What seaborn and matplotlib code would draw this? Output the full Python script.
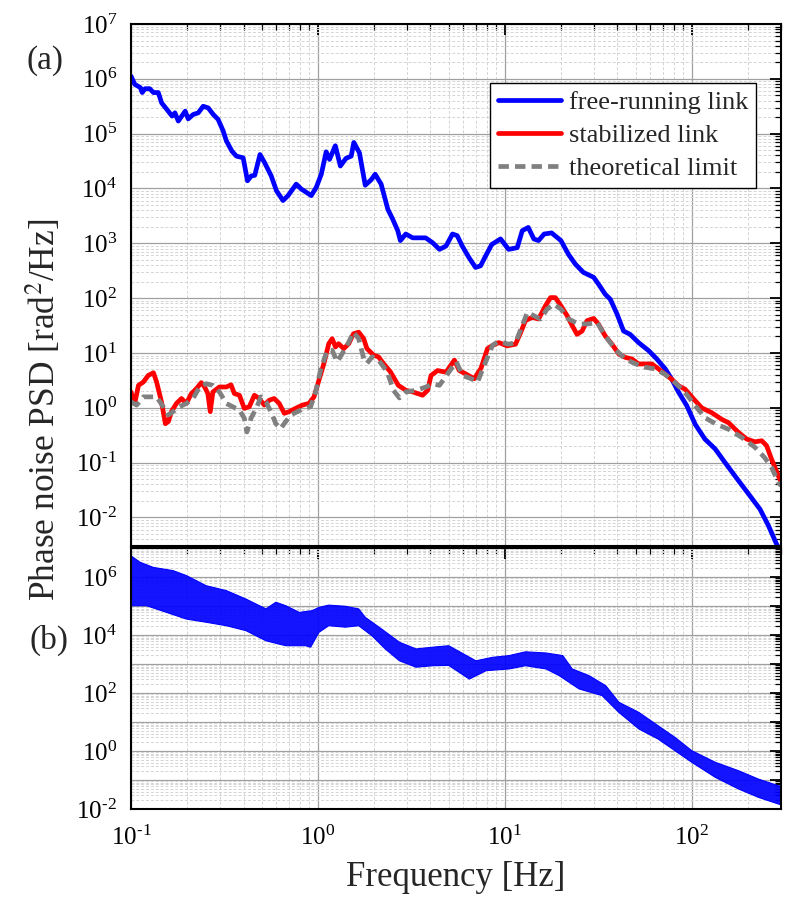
import numpy as np
import matplotlib
matplotlib.use("Agg")
import matplotlib.pyplot as plt
import seaborn as sns
from matplotlib.ticker import LogLocator, FuncFormatter, NullFormatter, FixedLocator

# ---------------- data (log10 of frequency [Hz], log10 of PSD [rad^2/Hz]) -------------
free_logf = [-1.0, -0.98, -0.95, -0.94, -0.925, -0.90, -0.88, -0.854, -0.836, -0.81,
             -0.78, -0.765, -0.747, -0.71, -0.694, -0.667, -0.64, -0.614, -0.587, -0.56,
             -0.534, -0.507, -0.49, -0.46, -0.436, -0.40, -0.377, -0.356, -0.338, -0.31,
             -0.285, -0.25, -0.222, -0.187, -0.16, -0.116, -0.089, -0.062, -0.036, -0.009,
             0.018, 0.044, 0.062, 0.093, 0.12, 0.15, 0.178, 0.192, 0.222, 0.253,
             0.285, 0.306, 0.338, 0.374, 0.40, 0.427, 0.441, 0.47, 0.507, 0.54,
             0.576, 0.614, 0.65, 0.685, 0.72, 0.745, 0.772, 0.808, 0.843, 0.87,
             0.897, 0.93, 0.977, 1.02, 1.066, 1.093, 1.125, 1.155, 1.18, 1.21,
             1.25, 1.30, 1.34, 1.377, 1.42, 1.475, 1.50, 1.537, 1.564, 1.60,
             1.635, 1.67, 1.715, 1.77, 1.813, 1.858, 1.893, 1.93, 1.973, 2.018,
             2.07, 2.125, 2.178, 2.25, 2.31, 2.365, 2.41, 2.454, 2.477]
free_logv = [6.05, 5.90, 5.84, 5.75, 5.82, 5.82, 5.75, 5.75, 5.56, 5.45,
             5.32, 5.38, 5.23, 5.41, 5.27, 5.35, 5.38, 5.50, 5.47, 5.35,
             5.26, 5.05, 4.87, 4.68, 4.59, 4.56, 4.14, 4.23, 4.24, 4.62,
             4.47, 4.23, 3.96, 3.78, 3.87, 4.08, 3.99, 3.93, 3.87, 4.02,
             4.26, 4.67, 4.53, 4.78, 4.41, 4.55, 4.59, 4.84, 4.65, 4.06,
             4.16, 4.26, 4.08, 3.62, 3.44, 3.23, 3.05, 3.17, 3.10, 3.10,
             3.10, 3.01, 2.89, 2.95, 3.17, 3.14, 2.95, 2.74, 2.56, 2.59,
             2.77, 2.98, 3.08, 2.89, 2.92, 3.23, 3.29, 3.08, 3.05, 3.17,
             3.19, 3.05, 2.80, 2.62, 2.47, 2.38, 2.26, 2.07, 1.98, 1.71,
             1.40, 1.34, 1.19, 1.04, 0.89, 0.71, 0.52, 0.28, 0.04, -0.30,
             -0.57, -0.75, -1.0, -1.33, -1.60, -1.85, -2.15, -2.49, -2.62]

stab_logf = [-1.0, -0.98, -0.96, -0.934, -0.908, -0.88, -0.863, -0.837, -0.816, -0.80,
             -0.784, -0.757, -0.73, -0.704, -0.677, -0.65, -0.624, -0.606, -0.589, -0.576,
             -0.562, -0.527, -0.49, -0.465, -0.447, -0.42, -0.394, -0.367, -0.34, -0.314,
             -0.287, -0.26, -0.234, -0.207, -0.18, -0.154, -0.12, -0.083, -0.048, -0.021,
             0.005, 0.032, 0.058, 0.076, 0.094, 0.11, 0.138, 0.165, 0.19, 0.218,
             0.245, 0.262, 0.298, 0.324, 0.35, 0.387, 0.43, 0.47, 0.507, 0.56,
             0.587, 0.605, 0.64, 0.685, 0.73, 0.756, 0.79, 0.836, 0.872, 0.907,
             0.93, 0.968, 1.012, 1.057, 1.084, 1.11, 1.146, 1.18, 1.217, 1.244,
             1.27, 1.30, 1.333, 1.36, 1.386, 1.413, 1.44, 1.475, 1.50, 1.537,
             1.573, 1.61, 1.644, 1.68, 1.715, 1.75, 1.786, 1.822, 1.858, 1.893,
             1.93, 1.964, 2.01, 2.053, 2.107, 2.16, 2.196, 2.25, 2.294, 2.338,
             2.374, 2.40, 2.427, 2.463, 2.477]
stab_logv = [0.29, 0.08, 0.41, 0.47, 0.59, 0.64, 0.47, 0.11, -0.29, -0.25,
             -0.07, 0.08, 0.17, 0.08, 0.26, 0.35, 0.46, 0.38, 0.26, -0.07,
             0.29, 0.38, 0.38, 0.42, 0.26, 0.23, -0.01, 0.02, 0.23, 0.17,
             0.05, 0.14, 0.17, 0.08, -0.10, -0.07, -0.01, 0.05, 0.08, 0.20,
             0.50, 0.81, 1.17, 1.26, 1.11, 1.17, 1.08, 1.17, 1.35, 1.38,
             1.26, 1.08, 0.96, 0.93, 0.81, 0.66, 0.41, 0.32, 0.29, 0.23,
             0.32, 0.59, 0.68, 0.65, 0.87, 0.68, 0.62, 0.53, 0.72, 1.08,
             1.13, 1.19, 1.13, 1.16, 1.37, 1.59, 1.65, 1.62, 1.86, 2.01,
             2.01, 1.86, 1.68, 1.50, 1.34, 1.40, 1.59, 1.63, 1.53, 1.31,
             1.16, 0.98, 0.92, 0.89, 0.80, 0.80, 0.80, 0.71, 0.61, 0.52,
             0.40, 0.34, 0.16, 0.0, -0.09, -0.21, -0.27, -0.45, -0.57, -0.62,
             -0.60, -0.69, -0.94, -1.24, -1.35]

theo_logf = [-1.0, -0.97, -0.934, -0.9, -0.863, -0.828, -0.80, -0.775, -0.74, -0.704,
             -0.668, -0.633, -0.598, -0.562, -0.527, -0.49, -0.456, -0.42, -0.394, -0.38,
             -0.358, -0.33, -0.305, -0.278, -0.252, -0.225, -0.2, -0.172, -0.145, -0.11,
             -0.074, -0.039, -0.012, 0.014, 0.05, 0.076, 0.103, 0.13, 0.165, 0.19,
             0.218, 0.245, 0.262, 0.29, 0.324, 0.37, 0.404, 0.436, 0.47, 0.525,
             0.578, 0.614, 0.65, 0.70, 0.74, 0.774, 0.82, 0.854, 0.89, 0.934,
             0.96, 0.99, 1.02, 1.057, 1.093, 1.12, 1.155, 1.19, 1.226, 1.262,
             1.30, 1.34, 1.395, 1.448, 1.493, 1.537, 1.59, 1.644, 1.70, 1.75,
             1.804, 1.858, 1.91, 1.964, 2.018, 2.07, 2.133, 2.196, 2.267, 2.338,
             2.39, 2.427, 2.463, 2.477]
theo_logv = [0.11, 0.05, 0.20, 0.20, 0.20, 0.02, -0.13, -0.07, 0.02, 0.08,
             0.17, 0.38, 0.44, 0.41, 0.29, 0.08, 0.02, -0.04, -0.19, -0.44,
             -0.19, -0.01, 0.20, 0.11, -0.07, -0.29, -0.38, -0.25, -0.13, -0.07,
             -0.01, 0.02, 0.29, 0.69, 1.05, 1.05, 0.84, 0.99, 1.20, 1.38,
             1.26, 0.90, 0.81, 0.93, 0.87, 0.66, 0.32, 0.18, 0.29, 0.32,
             0.38, 0.44, 0.41, 0.65, 0.84, 0.59, 0.53, 0.47, 0.78, 1.14,
             1.20, 1.19, 1.16, 1.19, 1.50, 1.74, 1.68, 1.62, 1.80, 1.89,
             1.80, 1.62, 1.53, 1.53, 1.56, 1.31, 1.07, 0.89, 0.80, 0.74,
             0.71, 0.61, 0.46, 0.28, 0.04, -0.18, -0.30, -0.39, -0.54, -0.72,
             -0.91, -1.09, -1.36, -1.42]

# panel (b): upper and lower edges of the bundle of repeated free-running spectra
band_upper_logf = [-1.0, -0.952, -0.88, -0.775, -0.704, -0.598, -0.49, -0.385, -0.278, -0.225,
                   -0.172, -0.10, -0.03, 0.005, 0.058, 0.147, 0.218, 0.253, 0.34, 0.436,
                   0.525, 0.614, 0.70, 0.747, 0.845, 0.934, 1.023, 1.11, 1.22, 1.31,
                   1.36, 1.45, 1.54, 1.61, 1.717, 1.82, 1.91, 2.0, 2.126, 2.25,
                   2.357, 2.464, 2.477]
band_upper_logv = [6.73, 6.51, 6.33, 6.22, 6.05, 5.70, 5.53, 5.24, 4.90, 5.13,
                   5.01, 4.78, 4.84, 4.95, 5.03, 4.99, 4.90, 4.61, 4.21, 3.75,
                   3.52, 3.58, 3.63, 3.46, 3.11, 3.23, 3.29, 3.42, 3.38, 3.29,
                   2.83, 2.60, 2.25, 1.68, 1.33, 0.87, 0.47, 0.01, -0.39, -0.68,
                   -0.97, -1.20, -1.22]
band_lower_logf = [-1.0, -0.917, -0.81, -0.704, -0.598, -0.49, -0.385, -0.278, -0.172, -0.066,
                   -0.039, 0.005, 0.058, 0.147, 0.218, 0.29, 0.36, 0.436, 0.525, 0.614,
                   0.70, 0.81, 0.90, 1.023, 1.11, 1.22, 1.29, 1.397, 1.52, 1.61,
                   1.717, 1.82, 1.91, 2.0, 2.126, 2.25, 2.357, 2.464, 2.477]
band_lower_logv = [5.01, 5.01, 4.78, 4.55, 4.44, 4.32, 4.15, 3.80, 3.63, 3.63,
                   3.58, 4.09, 4.32, 4.27, 4.32, 3.97, 3.52, 3.11, 2.89, 2.94,
                   2.95, 2.48, 2.77, 2.83, 2.94, 2.83, 2.60, 2.14, 1.91, 1.33,
                   0.76, 0.41, 0.01, -0.39, -0.91, -1.31, -1.60, -1.83, -1.85]

# tick decades shown on each axis
x_decades = [-1, 0, 1, 2]
ya_decades = [-2, -1, 0, 1, 2, 3, 4, 5, 6, 7]
yb_decades = [-2, -1, 0, 1, 2, 3, 4, 5, 6, 7]

legend_labels = ["free-running link", "stabilized link", "theoretical limit"]
panel_labels = ["(a)", "(b)"]
x_label = "Frequency [Hz]"
y_label = "Phase noise PSD [rad$^2$/Hz]"

# ---------------- style -------------
sns.set_theme(style="white")
plt.rcParams["font.family"] = ["Liberation Serif", "DejaVu Serif"]
plt.rcParams["mathtext.fontset"] = "stix"
plt.rcParams["axes.unicode_minus"] = False

BLUE, RED, GRAY = "#0000FF", "#FF0000", "#808080"

fig = plt.figure(figsize=(7.89, 9.08), dpi=100)
ax1 = fig.add_axes([131 / 789, 1 - 546 / 908, 650 / 789, 522 / 908])
ax2 = fig.add_axes([131 / 789, 1 - 809 / 908, 650 / 789, 261 / 908])

p = lambda a: np.power(10.0, np.asarray(a, dtype=float))

sns.lineplot(x=p(free_logf), y=p(free_logv), ax=ax1, color=BLUE, lw=3.4,
             label=legend_labels[0], sort=False, estimator=None)
sns.lineplot(x=p(stab_logf), y=p(stab_logv), ax=ax1, color=RED, lw=3.4,
             label=legend_labels[1], sort=False, estimator=None)
sns.lineplot(x=p(theo_logf), y=p(theo_logv), ax=ax1, color=GRAY, lw=3.4,
             label=legend_labels[2], sort=False, estimator=None)
ax1.lines[-1].set_dashes((2.2, 1.3))

# panel (b) bundle
poly_x = np.concatenate([p(band_upper_logf), p(band_lower_logf)[::-1]])
poly_y = np.concatenate([p(band_upper_logv), p(band_lower_logv)[::-1]])
ax2.fill(poly_x, poly_y, color=BLUE, alpha=0.92, lw=0)
sns.lineplot(x=p(band_upper_logf), y=p(band_upper_logv), ax=ax2, color=BLUE, lw=0.8,
             sort=False, estimator=None)
sns.lineplot(x=p(band_lower_logf), y=p(band_lower_logv), ax=ax2, color=BLUE, lw=0.8,
             sort=False, estimator=None)


def sup_fmt(even_only):
    def f(v, pos):
        e = int(round(np.log10(v)))
        if even_only and e % 2:
            return ""
        if e < 0:
            return r"$\mathdefault{10^{\text{-}%d}}$" % (-e)
        return r"$\mathdefault{10^{%d}}$" % e
    return FuncFormatter(f)


def minor_positions(decades, lo, hi):
    out = []
    for d in range(decades[0] - 1, decades[-1] + 1):
        for s in range(2, 10):
            v = s * 10.0 ** d
            if lo <= v <= hi:
                out.append(v)
    return out


for ax, ylo, yhi, ydec, even in [(ax1, 10 ** -2.52, 1e7, ya_decades, False),
                                 (ax2, 1e-2, 1e7, yb_decades, True)]:
    ax.set_xscale("log")
    ax.set_yscale("log")
    ax.set_xlim(0.1, 300)
    ax.set_ylim(ylo, yhi)
    ax.xaxis.set_major_locator(FixedLocator(p(x_decades)))
    ax.xaxis.set_minor_locator(FixedLocator(minor_positions(x_decades + [3], 0.1, 300)))
    ax.yaxis.set_major_locator(FixedLocator(p(ydec)))
    ax.yaxis.set_minor_locator(FixedLocator(minor_positions(ydec, ylo, yhi)))
    ax.yaxis.set_major_formatter(sup_fmt(even))
    ax.xaxis.set_major_formatter(sup_fmt(False))
    ax.xaxis.set_minor_formatter(NullFormatter())
    ax.yaxis.set_minor_formatter(NullFormatter())
    ax.set_axisbelow(True)
    ax.grid(True, which="minor", color="#d4d4d4", lw=0.7, ls=(0, (3, 2)))
    ax.grid(True, which="major", color="#a0a0a0", lw=0.9, ls="-")
    ax.tick_params(which="both", direction="in", top=True, right=True, colors="black")
    ax.tick_params(which="major", length=8, width=1.3, labelsize=18, pad=10)
    ax.tick_params(which="minor", length=4, width=0.9)
    for s in ax.spines.values():
        s.set_visible(True)
        s.set_color("black")
        s.set_linewidth(1.5)
    ax.set_xlabel("")
    ax.set_ylabel("")

ax1.tick_params(axis="x", labelbottom=False)
ax2.tick_params(axis="x", pad=12)

leg = ax1.legend(loc="upper right", bbox_to_anchor=(0.962, 0.887), fontsize=19,
                 frameon=True, fancybox=False, edgecolor="black", framealpha=1,
                 handlelength=2.4, handletextpad=0.3, borderpad=0.3,
                 labelspacing=0.35, borderaxespad=0)
leg.get_frame().set_linewidth(1.0)

fig.text(45 / 789, 1 - 61 / 908, panel_labels[0], fontsize=24, ha="center", va="center")
fig.text(49 / 789, 1 - 640 / 908, panel_labels[1], fontsize=24, ha="center", va="center")
fig.text(456 / 789, 1 - 877 / 908, x_label, fontsize=25, ha="center", va="center")
fig.text(43 / 789, 1 - 410 / 908, y_label, fontsize=25.5, ha="center", va="center",
         rotation=90)

fig.savefig("out.png", dpi=100, facecolor="white")
